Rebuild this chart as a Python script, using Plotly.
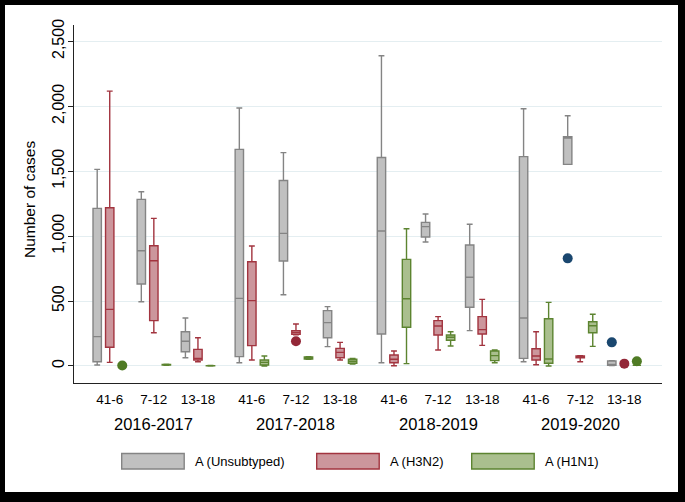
import plotly.graph_objects as go

# ---------------- data ----------------
seasons = ["2016-2017", "2017-2018", "2018-2019", "2019-2020"]
weeks = ["41-6", "7-12", "13-18"]
series = ["A (Unsubtyped)", "A (H3N2)", "A (H1N1)"]

# five-number summaries, season-major order (season x weeks)
unsub_low = [8, 495, 64, 25, 549, 149, 25, 955, 272, 33, 1553, 3]
unsub_q1 = [33, 631, 110, 72, 808, 218, 246, 993, 452, 59, 1553, 5]
unsub_med = [226, 888, 190, 521, 1021, 334, 1040, 1073, 683, 370, 1755, 10]
unsub_q3 = [1214, 1283, 264, 1668, 1429, 426, 1606, 1106, 932, 1612, 1765, 38]
unsub_up = [1514, 1342, 370, 1987, 1643, 457, 2389, 1170, 1091, 1981, 1927, 40]

h3_low = [28, 256, 33, 46, 240, 46, 2, 123, 159, 10, 33, 5]
h3_q1 = [144, 349, 46, 157, 244, 64, 25, 239, 246, 46, 64, 5]
h3_med = [436, 811, 59, 503, 259, 105, 52, 308, 280, 77, 70, 5]
h3_q3 = [1219, 926, 128, 803, 272, 136, 85, 349, 380, 133, 77, 5]
h3_up = [2117, 1137, 218, 924, 323, 182, 116, 380, 513, 264, 80, 5]

h1_low = [0, 6, 0, 0, 52, 15, 18, 154, 25, 0, 151, 5]
h1_q1 = [0, 8, 1, 8, 54, 21, 298, 198, 41, 21, 256, 5]
h1_med = [0, 10, 2, 28, 62, 36, 518, 221, 80, 54, 310, 5]
h1_q3 = [0, 12, 3, 46, 70, 52, 821, 239, 116, 364, 341, 5]
h1_up = [0, 14, 4, 77, 72, 59, 1057, 264, 123, 490, 398, 5]

# outliers: season index, week index, value
unsub_out_season = [3, 3]
unsub_out_week = [1, 2]
unsub_out_value = [829, 182]
h3_out_season = [1, 3]
h3_out_week = [1, 2]
h3_out_value = [190, 18]
h1_out_season = [0, 3]
h1_out_week = [0, 2]
h1_out_value = [4, 36]

y_ticks = [0, 500, 1000, 1500, 2000, 2500]

# ---------------- styling ----------------
fills = ["#c0c0c0", "#cc969c", "#aabf8e"]
lines = ["#848484", "#a2343f", "#5c8430"]
dot_colors = ["#1a476f", "#932737", "#4f7b25"]
FONT = "Liberation Sans, Arial, sans-serif"

SEASON_STEP = 3.222
OFFSETS = [-0.284, 0.0, 0.284]
BOX_W = 0.19


def cat_pos(s, w):
    return s * SEASON_STEP + w


stats = [
    (unsub_low, unsub_q1, unsub_med, unsub_q3, unsub_up),
    (h3_low, h3_q1, h3_med, h3_q3, h3_up),
    (h1_low, h1_q1, h1_med, h1_q3, h1_up),
]
outs = [
    (unsub_out_season, unsub_out_week, unsub_out_value),
    (h3_out_season, h3_out_week, h3_out_value),
    (h1_out_season, h1_out_week, h1_out_value),
]

fig = go.Figure()
for i, name in enumerate(series):
    lo, q1, med, q3, up = stats[i]
    xs = [cat_pos(s, w) + OFFSETS[i] for s in range(len(seasons)) for w in range(len(weeks))]
    fig.add_trace(go.Box(
        x=xs, lowerfence=lo, q1=q1, median=med, q3=q3, upperfence=up,
        name=name, width=BOX_W, whiskerwidth=0.7,
        fillcolor=fills[i], line=dict(color=lines[i], width=1.4),
        boxpoints=False, showlegend=False, hoverinfo="skip",
    ))
for i, name in enumerate(series):
    ss, ww, vv = outs[i]
    fig.add_trace(go.Scatter(
        x=[cat_pos(s, w) + OFFSETS[i] for s, w in zip(ss, ww)], y=vv,
        mode="markers", marker=dict(color=dot_colors[i], size=10, line=dict(width=0)),
        showlegend=False, hoverinfo="skip",
    ))

# ---------------- layout ----------------
W, H = 685, 502
L, R, T, B = 74, 23, 25, 119
pw, ph = W - L - R, H - T - B


def px_x(p):
    return (p - L) / pw


def px_y(p):
    return (H - B - p) / ph


tickvals = [cat_pos(s, w) for s in range(len(seasons)) for w in range(len(weeks))]
ticktext = [w for s in seasons for w in weeks]

annotations = []
for s, name in enumerate(seasons):
    annotations.append(dict(
        x=cat_pos(s, 1), xref="x", y=px_y(423.5), yref="paper",
        text=name, showarrow=False, xanchor="center", yanchor="middle",
        font=dict(size=16.5, color="black", family=FONT)))
annotations.append(dict(
    x=px_x(29), xref="paper", y=px_y(200), yref="paper", text="Number of cases",
    textangle=-90, showarrow=False, xanchor="center", yanchor="middle",
    font=dict(size=15.5, color="black", family=FONT)))

shapes = [dict(type="rect", xref="paper", yref="paper", layer="below",
               x0=px_x(5), x1=px_x(678), y0=px_y(492), y1=px_y(5),
               fillcolor="white", line=dict(width=0))]

leg_box_x = [121.7, 316.7, 471.7]
for i, name in enumerate(series):
    x0 = leg_box_x[i]
    shapes.append(dict(type="rect", xref="paper", yref="paper",
                       x0=px_x(x0), x1=px_x(x0 + 62.5), y0=px_y(469), y1=px_y(453.5),
                       fillcolor=fills[i], line=dict(color=lines[i], width=1.4)))
    annotations.append(dict(
        x=px_x(x0 + 71.5), xref="paper", y=px_y(461.5), yref="paper", text=name,
        showarrow=False, xanchor="left", yanchor="middle",
        font=dict(size=13, color="black", family=FONT)))

fig.update_layout(
    width=W, height=H, margin=dict(l=L, r=R, t=T, b=B),
    paper_bgcolor="black", plot_bgcolor="white",
    boxmode="overlay", showlegend=False,
    font=dict(family=FONT, color="black"),
    xaxis=dict(range=[-0.81, 12.52], tickvals=tickvals, ticktext=ticktext,
               showgrid=False, zeroline=False, showline=True, linecolor="#222",
               linewidth=1, ticks="", tickfont=dict(size=13.5, color="black"),
               ticklabelstandoff=4),
    yaxis=dict(range=[-131, 2626], tickvals=y_ticks, tickformat=",",
               tickangle=-90, showgrid=True, gridcolor="#e4eef1", gridwidth=1,
               zeroline=False, showline=True, linecolor="#222", linewidth=1,
               ticks="outside", ticklen=5, tickcolor="#222",
               tickfont=dict(size=16, color="black"), ticklabelstandoff=-2),
    annotations=annotations, shapes=shapes,
)

fig.write_html(
    "out.html",
    config={"displayModeBar": False, "staticPlot": True},
    post_script="document.body.style.margin='0';document.body.style.padding='0';"
                "document.body.style.overflow='hidden';",
)
